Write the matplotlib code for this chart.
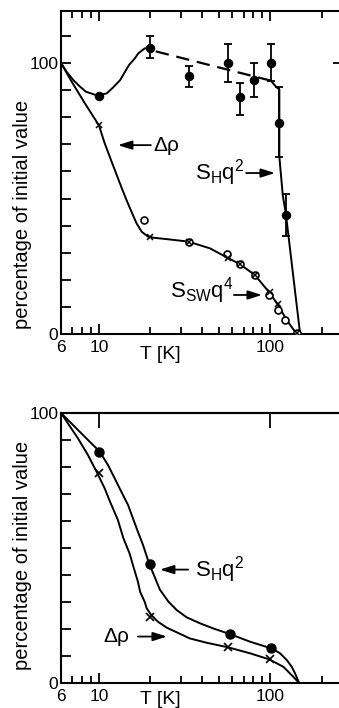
import numpy as np
import matplotlib
matplotlib.use("Agg")
import matplotlib.pyplot as plt
from matplotlib.ticker import NullFormatter, NullLocator

plt.rcParams['font.family'] = ['Liberation Sans', 'DejaVu Sans']
plt.rcParams['mathtext.fontset'] = 'custom'
plt.rcParams['mathtext.rm'] = 'Liberation Sans'
plt.rcParams['mathtext.it'] = 'Liberation Sans'
plt.rcParams['mathtext.default'] = 'regular'

# ---------------- upper panel data ----------------
# S_H q^2 measured points (filled circles) with error bars
sh_T = [10, 20, 33.5, 57, 66.5, 80.7, 101, 113.4, 123.6]
sh_y = [88, 105.6, 95.2, 100, 87.3, 93.7, 99.9, 77.8, 43.9]
sh_err_lo = [0, 3.6, 4.2, 7.0, 6.5, 6.2, 6.7, 12.5, 7.7]
sh_err_hi = [0, 4.4, 3.7, 7.0, 5.2, 6.3, 7.1, 13.2, 7.6]

# guide line for S_H q^2 (solid / dashed / solid)
sh_line1_T = [6, 6.47, 7.08, 7.74, 8.4, 9.8, 11.1, 12.1, 13.3, 14.2, 15.0, 16.2, 17.0, 18.5, 20]
sh_line1_y = [100, 96.8, 93.7, 91.3, 89.4, 88, 88.8, 91, 93.7, 96.8, 99.3, 101.7, 103.6, 105.4, 105.6]
sh_dash_T = [21.5, 101]
sh_dash_y = [104.3, 93.5]
sh_line2_T = [101, 109.4, 113.4, 113.4, 118.7, 124, 150]
sh_line2_y = [93.5, 91, 90.3, 65.4, 51.3, 43.9, 0]

# S_SW q^4 (open circles)
ssw_T = [18.3, 33.5, 56, 66.5, 81.5, 98.4, 112, 123, 143]
ssw_y = [42, 34, 29.5, 26, 21.8, 14.4, 8.9, 5.2, 0.5]

# delta rho (crosses)
dr_T = [10, 20, 33.5, 57, 66.5, 81.5, 100, 112, 143]
dr_y = [77, 35.9, 34, 28, 25.8, 21.8, 15.5, 11, 0.5]

dr_line_T = [6, 6.93, 8.28, 10, 10.8, 11.86, 12.7, 13.6, 14.5, 15.5, 16.6, 17.8, 19.4, 21,
             25, 33.3, 44.6, 57, 66.5, 81.5, 100, 112, 125, 143]
dr_line_y = [100, 93.1, 85.1, 77, 70.4, 63.6, 58.7, 53.8, 49.4, 45.1, 40.8, 37.7, 35.9, 35.5,
             35, 34.1, 31.6, 28, 25.8, 21.8, 15, 10.5, 5.2, 0]

# ---------------- lower panel data ----------------
b_sh_T = [10, 20, 58, 102]
b_sh_y = [85.7, 44, 18.1, 12.8]
b_sh_line_T = [6, 6.89, 7.54, 8.63, 10.1, 11.3, 12.36, 13.5, 14.8, 15.8, 16.9, 18.1, 19.7,
               21.2, 22.7, 25.5, 28.5, 32.6, 39, 46.6, 58.4, 76.4, 102, 114.5, 125.3, 134,
               140, 148]
b_sh_line_y = [100, 96.2, 93.7, 90, 85.7, 80.7, 75.8, 70.9, 65.9, 61, 56, 51.1, 44,
               39.2, 34.6, 30.1, 27, 24.3, 22.1, 20.2, 18.1, 15.3, 12.8, 11, 8.5, 6,
               3.6, 0]

b_dr_T = [10, 20, 57, 100]
b_dr_y = [77.6, 24.6, 13.2, 8.8]
b_dr_line_T = [6, 6.89, 7.54, 8.63, 9.8, 10.8, 11.6, 12.9, 13.9, 15.1, 16.0, 16.9, 17.4,
               18.5, 19.0, 20.2, 22.1, 24.9, 34, 42.7, 57, 76.4, 98.5, 119.7, 136.8, 148]
b_dr_line_y = [100, 94.3, 90.6, 84.4, 77.6, 72.1, 67.2, 60.4, 53.6, 48, 42.5, 37.5, 33.8,
               30.1, 27.7, 25.2, 22.7, 20.5, 16.5, 14.9, 13.2, 11, 8.8, 6, 2.3, 0]

xminor = [7, 8, 9, 20, 30, 40, 50, 60, 70, 80, 90, 200]

fig = plt.figure(figsize=(3.39, 7.08), dpi=100)
ax1 = fig.add_axes([61 / 339, 1 - 334 / 708, 280 / 339, 323 / 708])
ax2 = fig.add_axes([61 / 339, 1 - 683 / 708, 280 / 339, 270 / 708])

lw = 1.4
arrow = dict(arrowstyle='-|>,head_length=0.7,head_width=0.22', color='k', lw=1.3,
             mutation_scale=12, shrinkA=0, shrinkB=0)


def style_axis(ax, ymax, yticks, top_ticks, xlabel_y):
    ax.set_xscale('log')
    ax.set_xlim(6, 260)
    ax.set_ylim(0, ymax)
    for s in ax.spines.values():
        s.set_linewidth(1.5)
    ax.spines['right'].set_visible(False)
    ax.set_xticks([6, 10, 100])
    ax.set_xticklabels(['6', '10', '100'])
    ax.set_xticks(xminor, minor=True)
    ax.xaxis.set_minor_formatter(NullFormatter())
    ax.set_yticks(yticks)
    ax.set_yticklabels(['0' if v == 0 else ('100' if v == 100 else '') for v in yticks])
    ax.tick_params(axis='x', which='major', direction='in', length=7.5, width=1.3,
                   labelsize=12.5, pad=4, top=top_ticks)
    ax.tick_params(axis='x', which='minor', direction='in', length=5, width=1.3,
                   top=top_ticks)
    ax.tick_params(axis='y', which='major', direction='in', length=7, width=1.3,
                   labelsize=12.5, pad=2)
    ax.set_xlabel('T [K]', fontsize=14)
    ax.xaxis.set_label_coords(0.354, xlabel_y)
    ax.set_ylabel('percentage of initial value', fontsize=14.5)


# ---------------- upper panel ----------------
style_axis(ax1, 119.2, list(range(0, 120, 10)), True, -0.038)
ax1.yaxis.set_label_coords(-0.105, 0.371)
right = ax1.secondary_yaxis('right')
right.set_yticks([100])
right.set_yticklabels([])
right.tick_params(direction='in', length=6, width=1.3)
right.spines['right'].set_visible(False)

ax1.plot(sh_line1_T, sh_line1_y, color='k', lw=lw)
ax1.plot(sh_dash_T, sh_dash_y, color='k', lw=1.6, linestyle=(0, (6, 3.5)))
ax1.plot(sh_line2_T, sh_line2_y, color='k', lw=lw)
ax1.plot(dr_line_T, dr_line_y, color='k', lw=lw)

ax1.errorbar(sh_T, sh_y, yerr=[sh_err_lo, sh_err_hi], fmt='o', color='k',
             markersize=5.8, elinewidth=1.3, capsize=3, capthick=1.3, zorder=4)
ax1.plot(ssw_T, ssw_y, 'o', mfc='white', mec='k', mew=1.2, markersize=5, zorder=5)
ax1.plot(dr_T, dr_y, 'x', color='k', mew=1.1, markersize=4.5, zorder=6)

ax1.annotate('', xy=(12.9, 69.7), xytext=(20.1, 69.7), arrowprops=arrow)
ax1.text(20.7, 69.7, 'Δρ', fontsize=15, va='center', ha='left')
ax1.text(36.5, 59.4, '$S_Hq^2$', fontsize=16, va='center', ha='left')
ax1.annotate('', xy=(107, 59.4), xytext=(72.5, 59.4), arrowprops=arrow)
ax1.text(26, 16.2, '$S_{SW}q^4$', fontsize=16, va='center', ha='left')
ax1.annotate('', xy=(89.8, 14.4), xytext=(61.5, 14.4), arrowprops=arrow)

# ---------------- lower panel ----------------
style_axis(ax2, 100, list(range(0, 110, 10)), False, -0.03)
ax2.yaxis.set_label_coords(-0.105, 0.472)
top = ax2.secondary_xaxis('top')
top.set_xticks([10, 100])
top.set_xticklabels([])
top.xaxis.set_minor_locator(NullLocator())
top.tick_params(direction='in', length=10.5, width=1.3)
top.spines['top'].set_linewidth(1.5)

ax2.plot(b_sh_line_T, b_sh_line_y, color='k', lw=lw)
ax2.plot(b_dr_line_T, b_dr_line_y, color='k', lw=lw)
ax2.plot(b_sh_T, b_sh_y, 'o', color='k', markersize=6.5, zorder=4)
ax2.plot(b_dr_T, b_dr_y, 'x', color='k', mew=1.2, markersize=6, zorder=5)

ax2.annotate('', xy=(22.7, 42), xytext=(33.2, 42), arrowprops=arrow)
ax2.text(36.5, 42, '$S_Hq^2$', fontsize=16, va='center', ha='left')
ax2.text(10.6, 17.2, 'Δρ', fontsize=15, va='center', ha='left')
ax2.annotate('', xy=(25, 17.2), xytext=(16.9, 17.2), arrowprops=arrow)

fig.savefig('out.png', dpi=100)
